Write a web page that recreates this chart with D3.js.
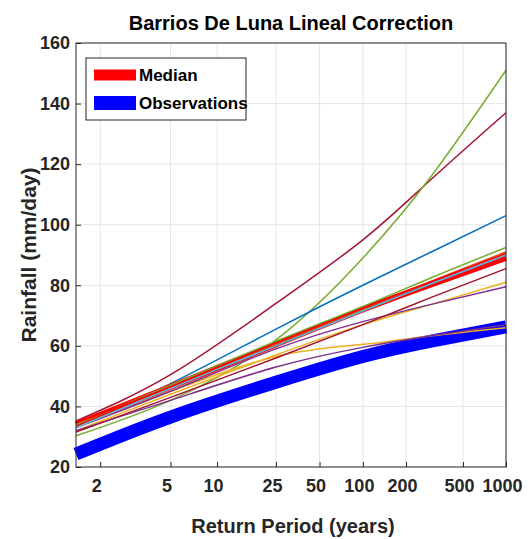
<!DOCTYPE html>
<html><head><meta charset="utf-8">
<script src="https://cdn.jsdelivr.net/npm/d3@7"></script>
<style>body{margin:0;background:#fff}text{font-family:"Liberation Sans",Arial,sans-serif;font-weight:bold}</style>
</head><body><div id="c"></div>
<script>
// return periods where the curves are sampled
const periods = [1.56, 5, 25, 100, 300, 1000];
const tickPeriods = [2, 5, 10, 25, 50, 100, 200, 500, 1000];
const yTicks = [20, 40, 60, 80, 100, 120, 140, 160];

// thin model curves: colour and values at periods
const modelColors = ["#A2142F", "#77AC30", "#0072BD", "#EDB120", "#EDB120", "#7E2F8E", "#7E2F8E", "#A2142F", "#77AC30", "#D95319", "#4DBEEE", "#FF0000"];
const modelValues = [
  [35.2, 50.5, 74, 95, 115, 137],
  [30.3, 42, 62, 89, 116, 151],
  [33, 47.5, 65.5, 80, 91, 103],
  [33.5, 45, 56.5, 60.5, 63.3, 66],
  [32, 44, 57, 67, 73.7, 81],
  [32, 42, 53, 59.5, 63.3, 67],
  [33, 45, 59, 68, 73.7, 79.5],
  [31.5, 43, 56, 67, 76, 85.5],
  [34, 47, 61.5, 73, 82.5, 92.5],
  [33, 46, 60.5, 72, 81.3, 91],
  [33, 46, 60, 71.5, 80.5, 90],
  [34.5, 46.5, 61, 72.5, 81.3, 90.5]
];
const median = [34, 46.5, 60.5, 72, 80.3, 89];
const observations = [24.3, 36.5, 48, 56.5, 61.6, 66.3];

const W = 528, H = 539;
const m = {left: 76, right: 22, top: 43, bottom: 72};
const gumbel = T => -Math.log(-Math.log(1 - 1 / T));

const svg = d3.select("#c").append("svg").attr("width", W).attr("height", H);
const x = d3.scaleLinear().domain([gumbel(1.56), gumbel(1000)]).range([m.left, W - m.right]);
const y = d3.scaleLinear().domain([20, 160]).range([H - m.bottom, m.top]);

// grid
svg.append("g").selectAll("line").data(tickPeriods).enter().append("line")
  .attr("x1", d => x(gumbel(d))).attr("x2", d => x(gumbel(d)))
  .attr("y1", m.top).attr("y2", H - m.bottom).attr("stroke", "#e6e6e6");
svg.append("g").selectAll("line").data(yTicks).enter().append("line")
  .attr("y1", d => y(d)).attr("y2", d => y(d))
  .attr("x1", m.left).attr("x2", W - m.right).attr("stroke", "#e6e6e6");

const line = vals => d3.line().curve(d3.curveNatural)
  .x((d, i) => x(gumbel(periods[i]))).y(d => y(d))(vals);

const plot = svg.append("g");
plot.append("path").attr("d", line(observations)).attr("fill", "none")
  .attr("stroke", "#0000FF").attr("stroke-width", 13);
modelValues.slice(0, 8).forEach((v, i) => plot.append("path").attr("d", line(v))
  .attr("fill", "none").attr("stroke", modelColors[i]).attr("stroke-width", 1.5));
plot.append("path").attr("d", line(median)).attr("fill", "none")
  .attr("stroke", "#FF0000").attr("stroke-width", 6);
modelValues.slice(8).forEach((v, i) => plot.append("path").attr("d", line(v))
  .attr("fill", "none").attr("stroke", modelColors[i + 8]).attr("stroke-width", 1.5));

// axes
svg.append("g").attr("transform", `translate(0,${H - m.bottom})`)
  .call(d3.axisBottom(x).tickValues(tickPeriods.map(gumbel)).tickSize(-5)
    .tickFormat((d, i) => tickPeriods[i]))
  .call(g => g.selectAll("text").attr("dy", 22).attr("dx", -4).attr("font-size", 18).attr("fill", "#262626"));
svg.append("g").attr("transform", `translate(${m.left},0)`)
  .call(d3.axisLeft(y).tickValues(yTicks).tickSize(-5))
  .call(g => g.selectAll("text").attr("dx", -3).attr("font-size", 18).attr("fill", "#262626"));
svg.selectAll(".domain").remove();
svg.selectAll(".tick line").attr("stroke", "#262626");
svg.append("rect").attr("x", m.left).attr("y", m.top).attr("width", W - m.right - m.left)
  .attr("height", H - m.bottom - m.top).attr("fill", "none").attr("stroke", "#262626");

// labels
svg.append("text").attr("x", 291).attr("y", 30).attr("text-anchor", "middle")
  .attr("font-size", 20).text("Barrios De Luna Lineal Correction");
svg.append("text").attr("x", 293).attr("y", 533).attr("text-anchor", "middle")
  .attr("font-size", 20).attr("fill", "#262626").text("Return Period (years)");
svg.append("text").attr("transform", `translate(36,${(m.top + H - m.bottom) / 2}) rotate(-90)`)
  .attr("text-anchor", "middle").attr("font-size", 21).attr("fill", "#262626").text("Rainfall (mm/day)");

// legend
const lg = svg.append("g").attr("transform", "translate(86,58)");
lg.append("rect").attr("width", 160).attr("height", 62).attr("fill", "#fff").attr("stroke", "#262626");
[["Median", "#FF0000", 11], ["Observations", "#0000FF", 14]].forEach((d, i) => {
  lg.append("line").attr("x1", 8).attr("x2", 50).attr("y1", 17 + i * 28).attr("y2", 17 + i * 28)
    .attr("stroke", d[1]).attr("stroke-width", d[2]);
  lg.append("text").attr("x", 53).attr("y", 23 + i * 28).attr("font-size", 17).text(d[0]);
});
</script></body></html>
